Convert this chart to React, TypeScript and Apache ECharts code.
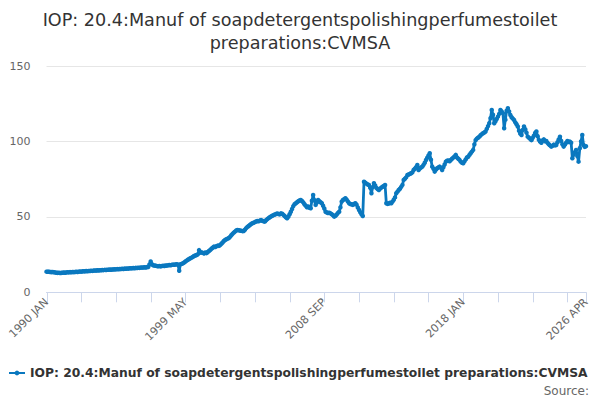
import React, { useEffect, useRef } from "react";
import * as echarts from "echarts";

const TITLE = "IOP: 20.4:Manuf of soapdetergentspolishingperfumestoilet\npreparations:CVMSA";
const SERIES_NAME = "IOP: 20.4:Manuf of soapdetergentspolishingperfumestoilet preparations:CVMSA";

const MONTHS = ["JAN", "FEB", "MAR", "APR", "MAY", "JUN", "JUL", "AUG", "SEP", "OCT", "NOV", "DEC"];
const FIRST_YEAR = 1990;

const Y_TICKS = [0, 50, 100, 150];

const VALUES: number[] = [
  // 1990
  13.7, 13.6, 13.7, 13.5, 13.4, 13.5, 13.3, 13.2, 13.0, 12.9, 13.0, 12.8,
  // 1991
  12.9, 13.0, 13.1, 13.0, 13.2, 13.3, 13.2, 13.4, 13.3, 13.5, 13.4, 13.5,
  // 1992
  13.6, 13.5, 13.7, 13.8, 13.7, 13.9, 14.0, 13.9, 14.1, 14.0, 14.2, 14.1,
  // 1993
  14.3, 14.2, 14.4, 14.5, 14.4, 14.6, 14.5, 14.7, 14.6, 14.8, 14.7, 14.9,
  // 1994
  14.8, 15.0, 14.9, 15.1, 15.0, 15.2, 15.1, 15.3, 15.2, 15.4, 15.3, 15.5,
  // 1995
  15.4, 15.6, 15.5, 15.7, 15.6, 15.8, 15.7, 15.9, 16.0, 15.9, 16.1, 16.0,
  // 1996
  16.2, 16.1, 16.3, 16.2, 16.4, 16.5, 16.4, 16.6, 16.5, 16.7, 16.8, 18.5,
  // 1997
  20.5, 18.6, 17.9, 17.8, 17.6, 17.4, 17.3, 17.5, 17.2, 17.4, 17.6, 17.5,
  // 1998
  17.8, 17.7, 17.9, 18.1, 18.0, 18.2, 18.4, 18.3, 18.5, 18.6, 18.4, 14.3,
  // 1999
  18.6, 18.9, 19.2, 19.8, 20.4, 21.0, 21.6, 22.1, 22.6, 23.0, 23.5, 24.1,
  // 2000
  24.4, 24.8, 25.2, 28.0, 26.3, 26.5, 26.2, 25.8, 26.4, 26.0, 26.7, 27.4,
  // 2001
  28.1, 28.9, 29.6, 30.3, 30.1, 30.6, 31.0, 30.8, 31.4, 32.2, 33.1, 34.0,
  // 2002
  34.7, 35.2, 35.6, 36.0, 36.8, 37.9, 38.8, 39.6, 40.3, 41.0, 41.4, 41.2,
  // 2003
  41.0, 40.8, 40.6, 40.7, 41.5, 42.6, 43.4, 44.0, 44.7, 45.3, 45.8, 46.2,
  // 2004
  46.6, 47.0, 47.3, 47.1, 47.6, 47.9, 47.5, 47.2, 46.9, 47.8, 48.6, 49.2,
  // 2005
  49.8, 50.3, 50.8, 51.2, 51.6, 51.9, 52.3, 52.0, 51.7, 52.4, 52.1, 51.4,
  // 2006
  50.6, 49.8, 49.1, 50.2, 51.8, 53.5, 55.3, 57.2, 58.5, 59.1, 59.8, 60.4,
  // 2007
  60.9, 61.3, 60.6, 59.7, 58.4, 57.5, 56.4, 56.9, 56.1, 55.8, 60.8, 64.6,
  // 2008
  61.2, 58.0, 59.6, 61.3, 60.4, 59.8, 59.1, 57.4, 55.6, 53.5, 53.0, 52.6,
  // 2009
  52.8, 52.4, 51.8, 51.2, 50.2, 50.8, 51.6, 52.7, 53.5, 56.4, 60.2, 61.3,
  // 2010
  61.8, 62.4, 61.5, 60.3, 59.1, 58.6, 58.4, 58.0, 58.6, 59.1, 58.2, 56.3,
  // 2011
  54.6, 53.1, 51.8, 50.6, 73.4, 72.8, 72.1, 71.5, 71.2, 69.4, 65.7, 69.8,
  // 2012
  72.4, 71.0, 69.3, 68.6, 67.9, 68.8, 69.5, 70.1, 70.6, 71.2, 59.1, 58.7,
  // 2013
  58.9, 59.4, 59.1, 60.2, 61.4, 63.0, 65.7, 66.8, 67.9, 68.7, 70.0, 71.3,
  // 2014
  74.6, 75.4, 76.3, 77.9, 78.2, 78.6, 79.0, 79.6, 81.2, 82.0, 83.1, 84.5,
  // 2015
  81.2, 82.1, 82.8, 83.4, 84.6, 86.0, 87.8, 89.3, 90.8, 92.3, 88.0, 83.4,
  // 2016
  82.0, 80.1, 81.4, 82.3, 82.9, 83.4, 82.6, 81.2, 83.0, 84.8, 86.7, 87.3,
  // 2017
  87.5, 87.0, 87.8, 88.6, 89.4, 90.2, 91.2, 89.5, 88.6, 87.9, 86.7, 86.0,
  // 2018
  85.7, 86.9, 88.2, 89.5, 90.0, 91.2, 92.3, 93.4, 94.5, 98.2, 101.0, 102.0,
  // 2019
  102.6, 103.3, 104.2, 105.0, 105.6, 106.1, 106.7, 108.5, 110.3, 112.2, 115.6, 121.0,
  // 2020
  117.8, 112.2, 113.5, 115.0, 116.6, 118.4, 121.0, 120.1, 118.9, 108.9, 114.6, 120.5,
  // 2021
  122.2, 120.0, 117.7, 116.2, 115.3, 114.4, 112.8, 111.5, 110.0, 107.2, 105.3, 104.4,
  // 2022
  107.8, 110.0, 108.2, 106.0, 103.3, 102.6, 101.8, 101.0, 102.5, 104.0, 105.8, 106.7,
  // 2023
  103.6, 101.2, 100.0, 99.3, 100.8, 101.5, 100.2, 100.4, 99.2, 98.3, 97.5, 96.7,
  // 2024
  97.2, 98.0, 97.5, 97.8, 99.6, 101.5, 103.3, 100.5, 98.2, 96.7, 98.0, 99.3,
  // 2025
  100.4, 99.8, 100.0, 99.3, 89.0, 91.5, 93.0, 94.5, 90.5, 86.7, 95.6, 100.2,
  // 2026
  104.4, 97.8, 96.5, 97.0,
];

const CATEGORIES: string[] = VALUES.map(
  (_, i) => `${FIRST_YEAR + Math.floor(i / 12)} ${MONTHS[i % 12]}`
);

const TICK_STEP = 28;
const LABEL_STEP = 112;

const LINE_COLOR = "#0a78bf";
const AXIS_COLOR = "#ccd6eb";
const FONT = "DejaVu Sans";

export default function App() {
  const ref = useRef<HTMLDivElement>(null);

  useEffect(() => {
    document.body.style.margin = "0";
    if (!ref.current) return;
    const chart = echarts.init(ref.current, undefined, { renderer: "svg" });
    const last = CATEGORIES.length - 1;
    chart.setOption({
      animation: false,
      backgroundColor: "#ffffff",
      title: {
        text: TITLE,
        left: "center",
        top: 3,
        textStyle: {
          fontFamily: FONT,
          fontSize: 17.6,
          fontWeight: "normal",
          color: "#333333",
          lineHeight: 23,
        },
      },
      legend: {
        left: 3,
        top: 362,
        itemWidth: 16,
        itemHeight: 6,
        itemGap: 6,
        textStyle: {
          fontFamily: FONT,
          fontSize: 12.3,
          fontWeight: "bold",
          color: "#333333",
        },
        data: [SERIES_NAME],
      },
      grid: {
        left: 46.5,
        right: 14,
        top: 66.3,
        bottom: 107.7,
        containLabel: false,
      },
      xAxis: {
        type: "category",
        boundaryGap: false,
        data: CATEGORIES,
        axisLine: { show: true, lineStyle: { color: AXIS_COLOR, width: 1 } },
        axisTick: { show: false },
        axisLabel: {
          rotate: 45,
          margin: 8,
          fontFamily: FONT,
          fontSize: 11,
          color: "#666666",
          interval: (index: number) => index % LABEL_STEP === 0 || index === last,
          showMaxLabel: true,
        },
        splitLine: { show: false },
      },
      yAxis: {
        type: "value",
        min: Y_TICKS[0],
        max: Y_TICKS[Y_TICKS.length - 1],
        interval: 50,
        axisLine: { show: false },
        axisTick: { show: false },
        axisLabel: {
          fontFamily: FONT,
          fontSize: 11,
          color: "#666666",
          margin: 16,
        },
        splitLine: { lineStyle: { color: "#e6e6e6", width: 1 } },
      },
      series: [
        {
          name: SERIES_NAME,
          type: "line",
          data: VALUES,
          color: LINE_COLOR,
          showSymbol: true,
          showAllSymbol: true,
          symbol: "circle",
          symbolSize: 4.5,
          lineStyle: { width: 2.8, color: LINE_COLOR },
          itemStyle: { color: LINE_COLOR },
        },
      ],
    });

    // x-axis ticks positioned through the category axis scale
    const tickIdx: number[] = [];
    for (let i = 0; i <= last; i += TICK_STEP) tickIdx.push(i);
    if (tickIdx[tickIdx.length - 1] !== last) tickIdx.push(last);
    const y0 = chart.convertToPixel({ yAxisIndex: 0 }, Y_TICKS[0]) as number;
    const tickGraphics = tickIdx.map((i) => {
      const x = Math.round(chart.convertToPixel({ xAxisIndex: 0 }, i) as number) + 0.5;
      return {
        type: "line",
        silent: true,
        shape: { x1: x, y1: y0, x2: x, y2: y0 + 10 },
        style: { stroke: AXIS_COLOR, lineWidth: 1 },
      };
    });
    chart.setOption({
      graphic: [
        ...tickGraphics,
        {
          type: "text",
          right: 11,
          top: 385,
          style: {
            text: "Source:",
            fontFamily: FONT,
            fontSize: 12,
            fill: "#666666",
          },
        },
      ],
    });
    return () => chart.dispose();
  }, []);

  return (
    <div
      ref={ref}
      style={{ width: 600, height: 400, position: "absolute", left: 0, top: 0 }}
    />
  );
}
